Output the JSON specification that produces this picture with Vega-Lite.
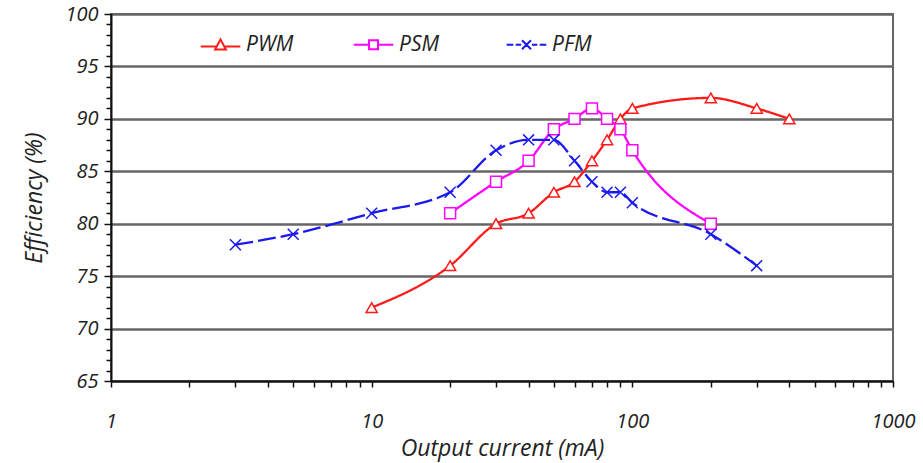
{
  "$schema": "https://vega.github.io/schema/vega-lite/v6.json",
  "width": 782,
  "height": 367,
  "autosize": {"type": "none"},
  "padding": {"left": 111, "top": 14, "right": 30, "bottom": 82},
  "background": "white",
  "config": {
    "view": {"stroke": "#666", "strokeWidth": 2},
    "font": "Open Sans",
    "axis": {
      "labelFont": "Open Sans",
      "labelFontStyle": "italic",
      "labelFontSize": 20,
      "labelColor": "#222",
      "titleFont": "Open Sans",
      "titleFontStyle": "italic",
      "titleFontWeight": "normal",
      "titleFontSize": 23,
      "titleColor": "#222",
      "domainColor": "#111",
      "domainWidth": 2,
      "tickColor": "#111",
      "tickWidth": 1.5
    },
    "legend": {
      "labelFont": "Open Sans",
      "labelFontStyle": "italic",
      "labelFontSize": 21,
      "labelColor": "#222"
    }
  },
  "data": {
    "values": [
      {"series": "PWM", "current": 10, "eff": 72},
      {"series": "PWM", "current": 20, "eff": 76},
      {"series": "PWM", "current": 30, "eff": 80},
      {"series": "PWM", "current": 40, "eff": 81},
      {"series": "PWM", "current": 50, "eff": 83},
      {"series": "PWM", "current": 60, "eff": 84},
      {"series": "PWM", "current": 70, "eff": 86},
      {"series": "PWM", "current": 80, "eff": 88},
      {"series": "PWM", "current": 90, "eff": 90},
      {"series": "PWM", "current": 100, "eff": 91},
      {"series": "PWM", "current": 200, "eff": 92},
      {"series": "PWM", "current": 300, "eff": 91},
      {"series": "PWM", "current": 400, "eff": 90},
      {"series": "PSM", "current": 20, "eff": 81},
      {"series": "PSM", "current": 30, "eff": 84},
      {"series": "PSM", "current": 40, "eff": 86},
      {"series": "PSM", "current": 50, "eff": 89},
      {"series": "PSM", "current": 60, "eff": 90},
      {"series": "PSM", "current": 70, "eff": 91},
      {"series": "PSM", "current": 80, "eff": 90},
      {"series": "PSM", "current": 90, "eff": 89},
      {"series": "PSM", "current": 100, "eff": 87},
      {"series": "PSM", "current": 200, "eff": 80},
      {"series": "PFM", "current": 3, "eff": 78},
      {"series": "PFM", "current": 5, "eff": 79},
      {"series": "PFM", "current": 10, "eff": 81},
      {"series": "PFM", "current": 20, "eff": 83},
      {"series": "PFM", "current": 30, "eff": 87},
      {"series": "PFM", "current": 40, "eff": 88},
      {"series": "PFM", "current": 50, "eff": 88},
      {"series": "PFM", "current": 60, "eff": 86},
      {"series": "PFM", "current": 70, "eff": 84},
      {"series": "PFM", "current": 80, "eff": 83},
      {"series": "PFM", "current": 90, "eff": 83},
      {"series": "PFM", "current": 100, "eff": 82},
      {"series": "PFM", "current": 200, "eff": 79},
      {"series": "PFM", "current": 300, "eff": 76}
    ]
  },
  "encoding": {
    "x": {
      "field": "current",
      "type": "quantitative",
      "scale": {"type": "log", "domain": [1, 1000], "nice": false},
      "axis": {
        "title": "Output current (mA)",
        "values": [1,2,3,4,5,6,7,8,9,10,20,30,40,50,60,70,80,90,100,200,300,400,500,600,700,800,900,1000],
        "format": "d",
        "labelExpr": "(datum.value == 1 || datum.value == 10 || datum.value == 100 || datum.value == 1000) ? datum.label : ''",
        "labelOverlap": false,
        "labelFlush": false,
        "labelPadding": 24,
        "titlePadding": 6,
        "grid": false,
        "tickSize": 6
      }
    },
    "y": {
      "field": "eff",
      "type": "quantitative",
      "scale": {"domain": [65, 100], "nice": false, "zero": false},
      "axis": {
        "title": "Efficiency (%)",
        "values": [65,66,67,68,69,70,71,72,73,74,75,76,77,78,79,80,81,82,83,84,85,86,87,88,89,90,91,92,93,94,95,96,97,98,99,100],
        "labelExpr": "datum.value % 5 === 0 ? datum.label : ''",
        "labelOverlap": false,
        "labelFlush": false,
        "labelPadding": 6,
        "titlePadding": 18,
        "tickSize": {"condition": {"test": "datum.value % 5 === 0", "value": 7}, "value": 5},
        "grid": true,
        "gridColor": "#666",
        "gridWidth": 2.5,
        "gridOpacity": {"condition": {"test": "datum.value % 5 === 0", "value": 1}, "value": 0}
      }
    }
  },
  "layer": [
    {
      "mark": {"type": "line", "interpolate": "monotone", "strokeWidth": 2.3},
      "encoding": {
        "stroke": {
          "field": "series",
          "type": "nominal",
          "scale": {"range": ["#1a1aee", "#ff00ff", "#ff1a1a"]},
          "legend": null
        },
        "strokeDash": {
          "field": "series",
          "type": "nominal",
          "scale": {"range": [[18, 5], [1, 0], [1, 0]]},
          "legend": null
        }
      }
    },
    {
      "transform": [{"filter": "datum.series == 'PWM'"}],
      "mark": {"type": "point", "shape": "triangle-up", "size": 125, "filled": true, "fill": "white", "stroke": "#ff1a1a", "strokeWidth": 1.5, "opacity": 1}
    },
    {
      "transform": [{"filter": "datum.series == 'PSM'"}],
      "mark": {"type": "point", "shape": "square", "size": 120, "filled": true, "fill": "white", "stroke": "#ff00ff", "strokeWidth": 1.5, "opacity": 1}
    },
    {
      "transform": [{"filter": "datum.series == 'PFM'"}],
      "mark": {"type": "point", "shape": "M-1,-1L1,1M-1,1L1,-1", "size": 120, "filled": false, "stroke": "#1a1aee", "strokeWidth": 1.5, "opacity": 1}
    },
    {
      "mark": {"type": "point", "filled": false, "size": 0, "strokeWidth": 0},
      "encoding": {
        "color": {
          "field": "series",
          "type": "nominal",
          "scale": {"domain": ["PWM", "PSM", "PFM"], "range": ["#ff1a1a", "#ff00ff", "#1a1aee"]},
          "legend": {
            "title": null,
            "orient": "none",
            "direction": "horizontal",
            "legendX": 99,
            "legendY": 20,
            "symbolSize": 144,
            "symbolStrokeWidth": 2,
            "symbolOpacity": 1,
            "labelOffset": 15,
            "columnPadding": 55,
            "gridAlign": "all"
          }
        },
        "shape": {
          "field": "series",
          "type": "nominal",
          "scale": {
            "domain": ["PWM", "PSM", "PFM"],
            "range": [
              "M-3.3,0.3H-0.8M0.8,0.3H3.3M0,-0.9L0.9,0.8L-0.9,0.8Z",
              "M-3.3,0H-0.75M0.75,0H3.3M-0.75,-0.75H0.75V0.75H-0.75Z",
              "M-3.3,0H-2.2M-1.8,0H-0.9M0.9,0H1.8M2.2,0H3.3M-0.75,-0.75L0.75,0.75M-0.75,0.75L0.75,-0.75"
            ]
          },
          "legend": {
            "title": null,
            "orient": "none",
            "direction": "horizontal",
            "legendX": 99,
            "legendY": 20,
            "symbolSize": 144,
            "symbolStrokeWidth": 2,
            "symbolOpacity": 1,
            "labelOffset": 15,
            "columnPadding": 55,
            "gridAlign": "all"
          }
        }
      }
    }
  ]
}
